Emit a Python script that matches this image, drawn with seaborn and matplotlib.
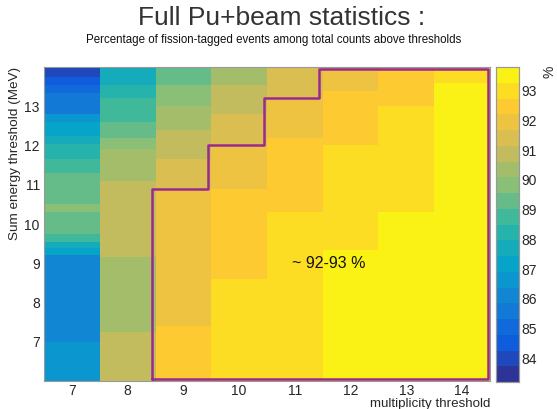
import numpy as np
import pandas as pd
import matplotlib
matplotlib.use("Agg")
import matplotlib.pyplot as plt
import seaborn as sns
from matplotlib.colors import LinearSegmentedColormap, ListedColormap

# ---------------- data ----------------
multiplicity = [7, 8, 9, 10, 11, 12, 13, 14]

# sum-energy bin edges (MeV, bottom -> top) and percentages per segment
edges_m7 = [6.0, 7.0, 9.2, 9.4, 9.55, 9.75, 10.3, 10.5, 11.3, 11.65, 12.05, 12.25, 12.6, 12.8, 13.35, 13.55, 13.75, 14.0]
vals_m7 = [86.6, 86.1, 87.2, 87.7, 88.8, 89.3, 89.8, 89.3, 88.8, 88.2, 87.7, 87.2, 86.6, 85.6, 85.1, 84.5, 84.0]

edges_m8 = [6.0, 7.25, 9.15, 11.1, 11.9, 12.2, 12.6, 13.2, 13.55, 14.0]
vals_m8 = [90.9, 90.4, 90.9, 90.4, 89.8, 89.3, 88.8, 88.2, 87.7]

edges_m9 = [6.0, 7.4, 10.9, 11.65, 12.4, 13.0, 13.55, 14.0]
vals_m9 = [92.5, 91.9, 91.4, 90.9, 90.4, 89.8, 89.3]

edges_m10 = [6.0, 8.6, 10.9, 12.0, 12.8, 13.55, 14.0]
vals_m10 = [93.0, 92.5, 91.9, 91.4, 90.9, 90.4]

edges_m11 = [6.0, 10.3, 12.2, 13.2, 14.0]
vals_m11 = [93.0, 92.5, 91.9, 91.4]

edges_m12 = [6.0, 9.35, 12.0, 13.4, 14.0]
vals_m12 = [93.5, 93.0, 92.5, 91.9]

edges_m13 = [6.0, 10.3, 13.0, 14.0]
vals_m13 = [93.5, 93.0, 92.5]

edges_m14 = [6.0, 13.6, 14.0]
vals_m14 = [93.5, 93.0]

x_tick_labels = ["7", "8", "9", "10", "11", "12", "13", "14"]
y_ticks = [7, 8, 9, 10, 11, 12, 13]
cbar_ticks = [84, 85, 86, 87, 88, 89, 90, 91, 92, 93]
z_min, z_max = 83.2, 93.8
region_threshold = 91.65   # outlined region ~92-93 %

columns = {
    7: (edges_m7, vals_m7), 8: (edges_m8, vals_m8), 9: (edges_m9, vals_m9),
    10: (edges_m10, vals_m10), 11: (edges_m11, vals_m11), 12: (edges_m12, vals_m12),
    13: (edges_m13, vals_m13), 14: (edges_m14, vals_m14),
}

# ---------------- build table on a fine energy grid ----------------
dy = 0.05
y_lo, y_hi = 6.0, 14.0
y_centers = np.round(np.arange(y_lo + dy / 2, y_hi, dy), 4)
table = {}
for m in multiplicity:
    e, v = columns[m]
    idx = np.searchsorted(np.array(e), y_centers) - 1
    table[m] = np.array(v)[idx]
df = pd.DataFrame(table, index=y_centers)

# ---------------- ROOT kBird palette, 20 contours ----------------
stops = np.linspace(0, 1, 9)
red = [0.2082, 0.0592, 0.0780, 0.0232, 0.1802, 0.5301, 0.8186, 0.9956, 0.9764]
green = [0.1664, 0.3599, 0.5041, 0.6419, 0.7178, 0.7492, 0.7328, 0.7862, 0.9832]
blue = [0.5293, 0.8684, 0.8385, 0.7914, 0.6425, 0.4662, 0.3499, 0.1968, 0.0539]
bird = LinearSegmentedColormap.from_list(
    "bird", [(s, (r, g, b)) for s, r, g, b in zip(stops, red, green, blue)])
ncont = 20
cmap = ListedColormap([bird((k + 0.5) / ncont) for k in range(ncont)])

# ---------------- figure ----------------
sns.set_style("white")
plt.rcParams["font.family"] = ["Liberation Sans", "DejaVu Sans"]

W, H = 557, 409
fig = plt.figure(figsize=(W / 100, H / 100), dpi=100)
ax = fig.add_axes([44 / W, 1 - 381 / H, (490 - 44) / W, (381 - 67) / H])
cax = fig.add_axes([496 / W, 1 - 382 / H, 23 / W, (382 - 67) / H])

sns.heatmap(df, cmap=cmap, vmin=z_min, vmax=z_max, ax=ax, cbar_ax=cax,
            xticklabels=False, yticklabels=False, linewidths=0)
ax.invert_yaxis()

def xpos(m):
    return m - (multiplicity[0] - 0.5)

def ypos(v):
    return (v - y_lo) / dy

# axes ticks
ax.set_xticks([xpos(m) for m in multiplicity])
ax.set_xticklabels(x_tick_labels, fontsize=10)
ax.set_xticks([xpos(m) for m in np.arange(6.6, 14.45, 0.1)], minor=True)
ax.set_yticks([ypos(v) for v in y_ticks])
ax.set_yticklabels([str(v) for v in y_ticks], fontsize=10, rotation=0)
ax.set_yticks([ypos(v) for v in np.arange(6.2, 13.95, 0.2)], minor=True)
ax.tick_params(axis="x", which="major", direction="in", length=6.5, width=0.8,
               color="#333333", bottom=True, pad=2.5)
ax.tick_params(axis="x", which="minor", direction="in", length=3.2, width=0.6,
               color="#333333", bottom=True)
ax.tick_params(axis="y", which="major", direction="in", length=10, width=0.8,
               color="#333333", left=True, pad=3)
ax.tick_params(axis="y", which="minor", direction="in", length=5, width=0.6,
               color="#333333", left=True)
for s in ax.spines.values():
    s.set_visible(True)
    s.set_color("#999999")
    s.set_linewidth(0.8)

ax.set_xlabel("")
ax.set_ylabel("")
fig.text(490 / W, 1 - 404 / H, "multiplicity threshold", ha="right", va="center",
         fontsize=9.6)
fig.text(15 / W, 1 - 67 / H, "Sum energy threshold (MeV)", ha="center", va="top",
         rotation=90, fontsize=9.7)

# colorbar
cax.set_yticks(cbar_ticks)
cax.set_yticklabels([str(t) for t in cbar_ticks], fontsize=10)
cax.tick_params(axis="y", direction="in", length=10, width=0.8, color="#555555",
                right=True, left=False, pad=2)
for s in cax.spines.values():
    s.set_visible(True)
    s.set_color("#999999")
    s.set_linewidth(0.8)
fig.text(550 / W, 1 - 66 / H, "%", ha="center", va="top", rotation=90, fontsize=10)

# outline of the region with values above the threshold (derived from data)
tops = []
for m in multiplicity:
    e, v = columns[m]
    top = y_lo
    for j, val in enumerate(v):
        if val >= region_threshold:
            top = e[j + 1]
        else:
            break
    tops.append(top)
inc = [(m, t) for m, t in zip(multiplicity, tops) if t > y_lo]
off = 0.06
px, py = [], []
first_m = inc[0][0]
px += [first_m - 0.5 - off]
py += [y_lo + 0.06]
for i, (m, t) in enumerate(inc):
    t = min(t, y_hi - 0.04)
    px += [m - 0.5 - off, m + 0.5 - off]
    py += [t, t]
px[-1] = inc[-1][0] + 0.5 - 0.04
px += [px[-1], px[0]]
py += [y_lo + 0.06, y_lo + 0.06]
ax.plot([xpos(x) for x in px], [ypos(y) for y in py], color="#9a2a8f",
        lw=1.8, solid_joinstyle="round", zorder=5)

ax.text(xpos(11.6), ypos(9.0), "~ 92-93 %", ha="center", va="center",
        fontsize=11.5, color="#111111", zorder=6)

# titles
fig.text(282 / W, 1 - 18 / H, "Full Pu+beam statistics :", ha="center", va="center",
         fontsize=19, color="#333333")
fig.text(274 / W, 1 - 40 / H,
         "Percentage of fission-tagged events among total counts above thresholds",
         ha="center", va="center", fontsize=8.3, color="#111111")

fig.savefig("out.png", dpi=100)
